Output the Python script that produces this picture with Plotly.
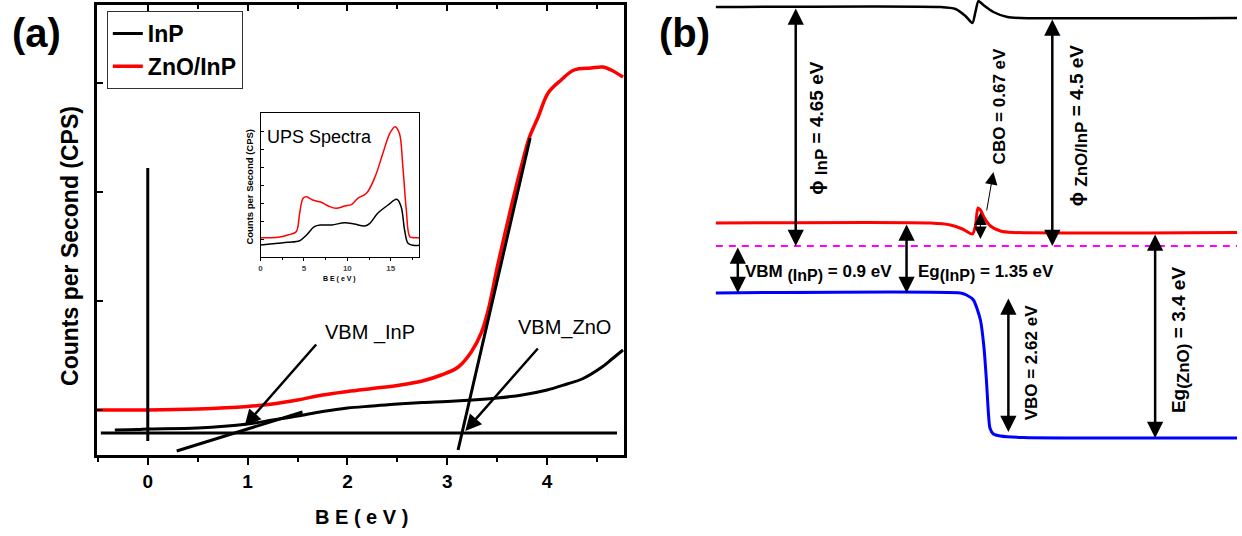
import plotly.graph_objects as go

W, H = 1242, 536
FONT = "Liberation Sans, Arial, sans-serif"

# ---------------- Panel (a): valence band spectra ----------------
inp_be = [-0.33, -0.1, 0.0, 0.5, 1.0, 1.25, 1.5, 1.75, 2.0, 2.25, 2.5, 2.75, 3.0, 3.25,
          3.5, 3.75, 4.0, 4.2, 4.35, 4.55, 4.65, 4.76]
inp_cps = [25, 25.5, 26, 27, 31, 35, 39, 43.5, 47, 49, 51, 52.5, 53.5, 55,
           57, 60, 65, 71, 76, 88, 96, 105]
zno_be = [-0.51, 0.0, 0.5, 1.0, 1.25, 1.5, 1.75, 2.0, 2.25, 2.5, 2.75, 2.94, 3.11, 3.24,
          3.34, 3.41, 3.51, 3.64, 3.74, 3.82, 3.91, 4.01, 4.14, 4.27, 4.44, 4.56, 4.64, 4.76]
zno_cps = [45, 45, 46, 48.5, 51, 55, 60, 63.5, 66.5, 69.5, 74, 80, 88, 103,
           122, 145, 192, 248, 288, 317, 338, 362, 375, 385, 387, 388, 385, 378]
baseline_be = [-0.47, 4.70]
baseline_cps = [22, 22]
zero_be = [0, 0]
zero_cps = [14, 287]
tangent_inp_be = [0.29, 1.55]
tangent_inp_cps = [4, 43]
tangent_zno_be = [3.108, 3.83]
tangent_zno_cps = [5, 317]
x_ticks = [0, 1, 2, 3, 4]
y_ticks = [45, 154, 263, 372]
# arrows: (tail_x, tail_y, head_x, head_y)
arrow_vbm_inp = (1.70, 112, 0.97, 29)
arrow_vbm_zno = (3.92, 108, 3.18, 24)

# ---------------- Inset: UPS spectra ----------------
ups_zno_be = [0, 2, 3.15, 4.1, 4.5, 4.9, 5.3, 6.0, 7.0, 7.8, 8.7, 9.7, 10.5, 11.2, 12.2,
              13.2, 14.1, 14.9, 15.5, 16.0, 16.4, 16.8, 17.2, 17.6, 18.3]
ups_zno_cps = [19.3, 19.7, 22, 25.3, 43.7, 58.7, 60.3, 57, 54.7, 51, 48.7, 51, 52.7, 58.7, 63.7,
               80.3, 103.7, 123.7, 130.3, 123.7, 90.3, 47, 20.3, 19.3, 19.3]
ups_inp_be = [0, 2, 3.15, 4.5, 5.3, 6.2, 7.0, 8.2, 9.7, 10.8, 12.0, 12.6, 13.5, 14.7,
              15.7, 16.2, 16.6, 17.0, 17.6, 18.3]
ups_inp_cps = [12, 13.7, 14.7, 16.3, 22, 30.3, 32, 32, 34.3, 33, 31, 33.7, 43.7, 52,
               57.7, 50.3, 27, 13.7, 11.7, 11.7]
inset_x_ticks = [0, 5, 10, 15]

# ---------------- Panel (b): band diagram (diagram units) ----------------
vac_x = [715, 940, 955, 965, 972, 975, 978, 983, 993, 1007, 1020, 1237]
vac_y = [7, 7, 9, 16, 23, 12, 1, 5, 12, 17, 18, 18]
cb_x = [715, 930, 950, 962, 972, 975, 977.5, 980, 984, 990, 1000, 1013, 1237]
cb_y = [223, 223, 225, 229, 234, 226, 208, 210, 218, 226, 231, 232.5, 232.5]
vb_x = [715, 960, 966, 973, 980, 983.5, 986, 988, 989.5, 993, 1000, 1023, 1237]
vb_y = [293, 293, 295, 300, 320, 347, 380, 413, 428, 434, 436, 437.5, 438]
ef_x = [715, 1237]
ef_y = [246, 246]
# double arrows: (x, y_top, y_bottom, width)
arrows_b = {
    "phi_inp": (795, 7, 246, 2.5),
    "eg_inp": (906, 223, 293, 2.5),
    "vbm_inp": (737, 246, 293, 2.5),
    "cbo": (980, 211, 239, 1),
    "phi_zno": (1052, 18, 246, 2.5),
    "eg_zno": (1155, 233, 438, 2.5),
    "vbo": (1008, 297, 432, 2.5),
}
cbo_pointer = (986, 212, 993, 172)

fig = go.Figure()

# panel a traces
fig.add_trace(go.Scatter(x=inp_be, y=inp_cps, mode="lines", name="InP",
                         line=dict(color="black", width=3, shape="spline"), xaxis="x", yaxis="y"))
fig.add_trace(go.Scatter(x=zno_be, y=zno_cps, mode="lines", name="ZnO/InP",
                         line=dict(color="#ff0000", width=3.5, shape="spline"), xaxis="x", yaxis="y"))
for bx, by in [(baseline_be, baseline_cps), (zero_be, zero_cps),
               (tangent_inp_be, tangent_inp_cps), (tangent_zno_be, tangent_zno_cps)]:
    fig.add_trace(go.Scatter(x=bx, y=by, mode="lines", showlegend=False, hoverinfo="skip",
                             line=dict(color="black", width=3), xaxis="x", yaxis="y"))
# dummy for top mirror axis
fig.add_trace(go.Scatter(x=[None], y=[None], xaxis="x4", yaxis="y", showlegend=False))

# inset traces
fig.add_trace(go.Scatter(x=ups_zno_be, y=ups_zno_cps, mode="lines", showlegend=False,
                         line=dict(color="#ff0000", width=1.5, shape="spline"), xaxis="x3", yaxis="y3"))
fig.add_trace(go.Scatter(x=ups_inp_be, y=ups_inp_cps, mode="lines", showlegend=False,
                         line=dict(color="black", width=1.5, shape="spline"), xaxis="x3", yaxis="y3"))

# panel b traces
fig.add_trace(go.Scatter(x=vac_x, y=vac_y, mode="lines", showlegend=False,
                         line=dict(color="black", width=2.5, shape="spline", smoothing=0.6), xaxis="x2", yaxis="y2"))
fig.add_trace(go.Scatter(x=cb_x, y=cb_y, mode="lines", showlegend=False,
                         line=dict(color="#ff0000", width=3, shape="spline", smoothing=0.6), xaxis="x2", yaxis="y2"))
fig.add_trace(go.Scatter(x=ef_x, y=ef_y, mode="lines", showlegend=False,
                         line=dict(color="#ff00ff", width=2, dash="7px,6px"), xaxis="x2", yaxis="y2"))
fig.add_trace(go.Scatter(x=vb_x, y=vb_y, mode="lines", showlegend=False,
                         line=dict(color="#0000ff", width=3, shape="spline", smoothing=0.6), xaxis="x2", yaxis="y2"))

ann = []


def txt(text, x, y, size, xref="paper", yref="paper", angle=0, xanchor="center", bold=True, yanchor="middle"):
    ann.append(dict(text=text, x=x, y=y, xref=xref, yref=yref, showarrow=False, textangle=angle,
                    xanchor=xanchor, yanchor=yanchor,
                    font=dict(family=FONT, size=size, color="black", weight="bold" if bold else "normal")))


def sub(s, size):
    return "<sub><span style='font-size:%dpx'>%s</span></sub>" % (size, s)


# panel labels and axis titles
txt("(a)", 35 / W, 1 - 33 / H, 40)
txt("(b)", 684 / W, 1 - 33 / H, 40)
txt("Counts per Second (CPS)", 68 / W, 1 - 246 / H, 23, angle=-90)
txt("B E ( e V )", 360 / W, 1 - 517 / H, 20)
txt("VBM _InP", 2.23, 122, 20, xref="x", yref="y", bold=False)
txt("VBM_ZnO", 4.17, 127, 20, xref="x", yref="y", bold=False)
# inset texts
txt("UPS Spectra", 263 / W, 1 - 137 / H, 18, xanchor="left", bold=False)
txt("Counts per Second (CPS)", 247 / W, 1 - 187 / H, 9.5, angle=-90)
txt("B E ( e V )", 338 / W, 1 - 279 / H, 7)

# panel a arrows
for tx, ty, hx, hy in [arrow_vbm_inp, arrow_vbm_zno]:
    ann.append(dict(x=hx, y=hy, ax=tx, ay=ty, xref="x", yref="y", axref="x", ayref="y", text="",
                    showarrow=True, arrowhead=2, arrowsize=1.3, arrowwidth=2.5, arrowcolor="black", standoff=0))

# panel b arrows
for key, (ax_, yt, yb, wd) in arrows_b.items():
    ann.append(dict(x=ax_, y=yb, ax=ax_, ay=yt, xref="x2", yref="y2", axref="x2", ayref="y2", text="",
                    showarrow=True, arrowhead=2, startarrowhead=2, arrowside="end+start",
                    arrowsize=1.3 if wd > 2 else 2.5, startarrowsize=1.3 if wd > 2 else 2.5,
                    arrowwidth=wd, arrowcolor="black", standoff=0, startstandoff=0))
tx, ty, hx, hy = cbo_pointer
ann.append(dict(x=hx, y=hy, ax=tx, ay=ty, xref="x2", yref="y2", axref="x2", ayref="y2", text="",
                showarrow=True, arrowhead=2, arrowsize=2.5, arrowwidth=1, arrowcolor="black", standoff=0))

# panel b labels
txt("ϕ " + sub("InP", 17) + " = 4.65 eV", 817, 128, 19, xref="x2", yref="y2", angle=-90)
txt("ϕ " + sub("ZnO/InP", 17) + " = 4.5 eV", 1078, 125, 19, xref="x2", yref="y2", angle=-90)
txt("CBO = 0.67 eV", 999, 106, 17, xref="x2", yref="y2", angle=-90)
txt("VBO = 2.62 eV", 1031, 363, 17, xref="x2", yref="y2", angle=-90)
txt("Eg" + sub("(ZnO)", 17) + " = 3.4 eV", 1180, 340, 19, xref="x2", yref="y2", angle=-90)
txt("VBM " + sub("(InP)", 16) + " = 0.9 eV", 742, 273, 17, xref="x2", yref="y2", xanchor="left")
txt("Eg" + sub("(InP)", 16) + " = 1.35 eV", 915, 273, 17, xref="x2", yref="y2", xanchor="left")

axis_font = dict(family=FONT, size=19, color="black", weight="bold")
fig.update_layout(
    width=W, height=H, margin=dict(l=0, r=0, t=0, b=0),
    paper_bgcolor="white", plot_bgcolor="rgba(0,0,0,0)",
    font=dict(family=FONT, color="black"),
    showlegend=True,
    legend=dict(x=105 / W, y=1 - 11 / H, xanchor="left", yanchor="top",
                bgcolor="white", bordercolor="#333", borderwidth=1,
                font=dict(family=FONT, size=23, color="black", weight="bold"),
                itemwidth=30, tracegroupgap=0),
    xaxis=dict(domain=[95 / W, 623 / W], range=[-0.51, 4.77], tickvals=x_ticks,
               ticks="outside", ticklen=7, tickwidth=2, tickcolor="black",
               minor=dict(dtick=0.5, tick0=0, ticks="outside", ticklen=4, tickwidth=2, tickcolor="black"),
               showline=True, linewidth=2.5, linecolor="black", mirror=True,
               showgrid=False, zeroline=False, tickfont=axis_font, anchor="y"),
    xaxis4=dict(domain=[95 / W, 623 / W], range=[-0.51, 4.77], tickvals=x_ticks, overlaying="x",
                side="top", anchor="y", ticks="inside", ticklen=6, tickwidth=1.5, tickcolor="black",
                minor=dict(dtick=0.5, tick0=0, ticks="inside", ticklen=4, tickwidth=1.5, tickcolor="black"),
                showticklabels=False, showline=False, showgrid=False, zeroline=False),
    yaxis=dict(domain=[1 - 455 / H, 1 - 5 / H], range=[0, 450], tickvals=y_ticks,
               ticks="inside", ticklen=6, tickwidth=2, tickcolor="black", showticklabels=False,
               showline=True, linewidth=2.5, linecolor="black", mirror=True,
               showgrid=False, zeroline=False, anchor="x"),
    xaxis3=dict(domain=[259 / W, 418 / W], range=[0, 18.3], tickvals=inset_x_ticks,
                ticks="outside", ticklen=3, tickwidth=1, tickcolor="black",
                minor=dict(dtick=2.5, tick0=0, ticks="outside", ticklen=2, tickwidth=1),
                showline=True, linewidth=1, linecolor="black", mirror=True,
                showgrid=False, zeroline=False, anchor="y3",
                tickfont=dict(family=FONT, size=8, color="#444", weight="bold")),
    yaxis3=dict(domain=[1 - 257 / H, 1 - 113 / H], range=[0, 144], dtick=18,
                ticks="inside", ticklen=3, tickwidth=1, tickcolor="black", showticklabels=False,
                showline=True, linewidth=1, linecolor="black", mirror=True,
                showgrid=False, zeroline=False, anchor="x3"),
    xaxis2=dict(domain=[0.55, 1.0], range=[0.55 * W, W], visible=False, anchor="y2"),
    yaxis2=dict(domain=[0, 1], range=[H, 0], visible=False, anchor="x2"),
    annotations=ann,
)

fig.write_html("out.html", config={"displayModeBar": False},
               post_script="document.body.style.margin='0px';")
